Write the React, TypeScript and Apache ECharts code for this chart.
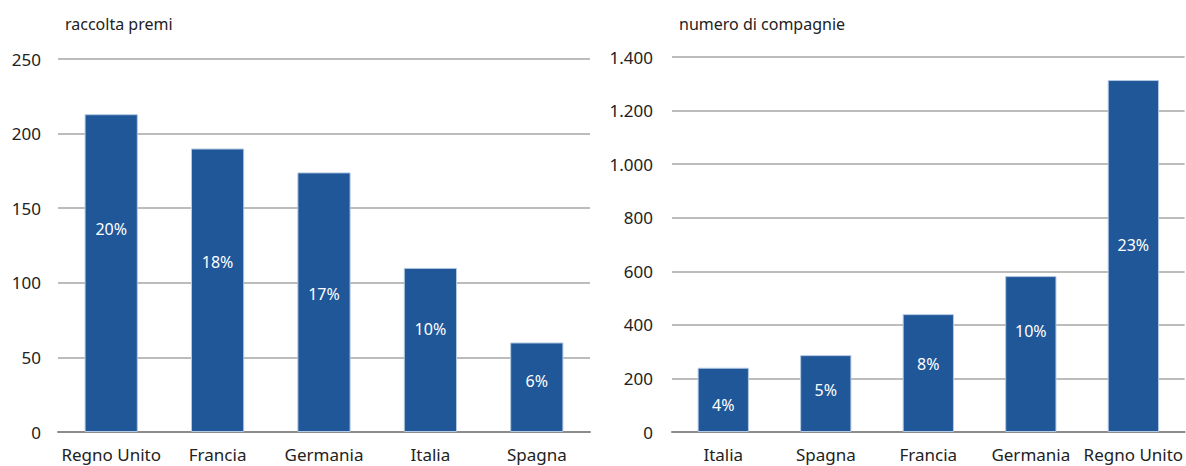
import React, { useEffect, useRef } from "react";
import * as echarts from "echarts";

const premiCategories = ["Regno Unito", "Francia", "Germania", "Italia", "Spagna"];
const premiValues = [213, 190, 174, 110, 60];
const premiShares = ["20%", "18%", "17%", "10%", "6%"];

const compCategories = ["Italia", "Spagna", "Francia", "Germania", "Regno Unito"];
const compValues = [240, 287, 440, 582, 1314];
const compShares = ["4%", "5%", "8%", "10%", "23%"];

const premiTicks = { min: 0, max: 250, interval: 50 };
const compTicks = { min: 0, max: 1400, interval: 200 };

// label vertical placement inside each bar (percent from bar top)
const premiLabelY = [36, 40, 47, 37, 43];
const compLabelY = [58, 45, 42, 35, 47];

const FONT = "'Noto Sans', sans-serif";
const BAR = "#1f5799";

function fmtThousands(v: number) {
  return String(v).replace(/\B(?=(\d{3})+(?!\d))/g, ".");
}

export default function App() {
  const ref = useRef<HTMLDivElement>(null);
  useEffect(() => {
    if (!ref.current) return;
    const chart = echarts.init(ref.current, null, { renderer: "svg" });
    const yAxisCommon = {
      type: "value" as const,
      axisLine: { show: false },
      axisTick: { show: false },
      splitLine: { lineStyle: { color: "#a6a6a6", width: 1.5 } },
      axisLabel: { color: "#222", fontSize: 17, fontFamily: FONT, margin: 17 },
    };
    const xAxisCommon = {
      type: "category" as const,
      axisTick: { show: false },
      axisLine: { lineStyle: { color: "#8c8c8c", width: 2 } },
      axisLabel: { color: "#222", fontSize: 17, fontFamily: FONT, margin: 14, interval: 0 },
    };
    const mkData = (vals: number[], shares: string[], ys: number[]) =>
      vals.map((v, i) => ({
        value: v,
        label: { formatter: shares[i], position: ["50%", ys[i] + "%"] as any },
      }));
    const barCommon = {
      type: "bar" as const,
      barWidth: "50%",
      itemStyle: { color: BAR, borderColor: "#b3c8e2", borderWidth: 1 },
      label: {
        show: true,
        color: "#fff",
        fontSize: 16,
        fontFamily: FONT,
        align: "center",
        verticalAlign: "middle",
      },
    };
    chart.setOption({
      animation: false,
      title: [
        { text: "raccolta premi", left: 60, top: 11, textStyle: { fontSize: 16, fontWeight: "normal", color: "#222", fontFamily: FONT } },
        { text: "numero di compagnie", left: 674, top: 11, textStyle: { fontSize: 16, fontWeight: "normal", color: "#222", fontFamily: FONT } },
      ],
      grid: [
        { left: 58, right: 596, top: 59, bottom: 34 },
        { left: 672, right: 0, top: 57, bottom: 34 },
      ],
      xAxis: [
        { ...xAxisCommon, gridIndex: 0, data: premiCategories },
        { ...xAxisCommon, gridIndex: 1, data: compCategories },
      ],
      yAxis: [
        { ...yAxisCommon, gridIndex: 0, ...premiTicks },
        {
          ...yAxisCommon,
          gridIndex: 1,
          ...compTicks,
          axisLabel: { ...yAxisCommon.axisLabel, margin: 19, formatter: (v: number) => fmtThousands(v) },
        },
      ],
      series: [
        { ...barCommon, xAxisIndex: 0, yAxisIndex: 0, data: mkData(premiValues, premiShares, premiLabelY) },
        { ...barCommon, xAxisIndex: 1, yAxisIndex: 1, data: mkData(compValues, compShares, compLabelY) },
      ],
    });
    return () => chart.dispose();
  }, []);
  return <div ref={ref} style={{ width: 1186, height: 466, position: "absolute", left: 0, top: 0 }} />;
}
